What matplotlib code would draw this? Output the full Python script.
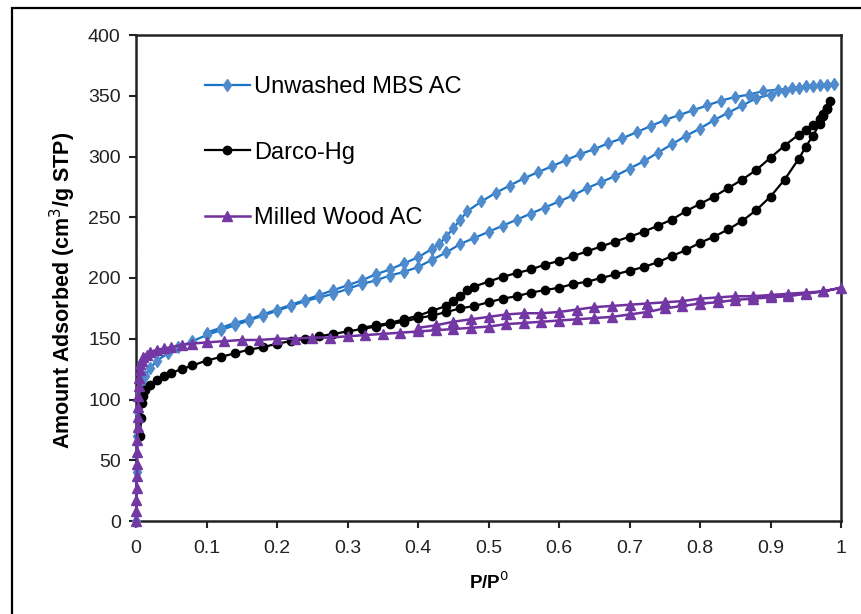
import matplotlib
matplotlib.use("Agg")
import matplotlib.pyplot as plt
from matplotlib.patches import Rectangle

plt.rcParams['font.family'] = ['Liberation Sans', 'DejaVu Sans']

# Unwashed MBS AC - adsorption branch
mbs_ads_x = [0, 0.001, 0.002, 0.003, 0.005, 0.008, 0.013, 0.02, 0.03, 0.045, 0.06, 0.08,
             0.1, 0.12, 0.14, 0.16, 0.18, 0.2, 0.22, 0.24, 0.26, 0.28, 0.3, 0.32, 0.34, 0.36,
             0.38, 0.4, 0.42, 0.44, 0.46, 0.48, 0.5, 0.52, 0.54, 0.56, 0.58, 0.6, 0.62, 0.64,
             0.66, 0.68, 0.7, 0.72, 0.74, 0.76, 0.78, 0.8, 0.82, 0.84, 0.86, 0.88, 0.9, 0.92,
             0.94, 0.96, 0.98, 0.99]
mbs_ads_y = [0, 40, 70, 90, 105, 113, 119, 126, 132, 138, 143, 148,
             153, 157, 161, 165, 169, 173, 177, 181, 184, 187, 191, 195, 198, 202,
             205, 209, 215, 221, 228, 233, 238, 243, 248, 253, 258, 263, 268, 274,
             279, 284, 290, 296, 303, 310, 317, 323, 330, 336, 342, 348, 351, 354,
             356, 358, 359, 360]
# Unwashed MBS AC - desorption branch
mbs_des_x = [0.97, 0.95, 0.93, 0.91, 0.89, 0.87, 0.85, 0.83, 0.81, 0.79, 0.77, 0.75, 0.73,
             0.71, 0.69, 0.67, 0.65, 0.63, 0.61, 0.59, 0.57, 0.55, 0.53, 0.51, 0.49, 0.47,
             0.46, 0.45, 0.44, 0.43, 0.42, 0.4, 0.38, 0.36, 0.34, 0.32, 0.3, 0.28, 0.26,
             0.24, 0.22, 0.2, 0.18, 0.16, 0.14, 0.12, 0.1]
mbs_des_y = [359, 358, 356, 355, 354, 351, 349, 346, 342, 338, 334, 330, 325,
             320, 315, 311, 306, 302, 297, 292, 287, 282, 276, 270, 263, 255,
             248, 241, 234, 228, 224, 217, 212, 207, 203, 198, 194, 190, 186,
             182, 178, 174, 170, 166, 163, 159, 155]

# Darco-Hg - adsorption branch
darco_ads_x = [0.006, 0.007, 0.008, 0.01, 0.013, 0.02, 0.03, 0.04, 0.05, 0.065, 0.08,
               0.1, 0.12, 0.14, 0.16, 0.18, 0.2, 0.22, 0.24, 0.26, 0.28, 0.3, 0.32, 0.34,
               0.36, 0.38, 0.4, 0.42, 0.44, 0.46, 0.48, 0.5, 0.52, 0.54, 0.56, 0.58, 0.6,
               0.62, 0.64, 0.66, 0.68, 0.7, 0.72, 0.74, 0.76, 0.78, 0.8, 0.82, 0.84, 0.86,
               0.88, 0.9, 0.92, 0.94, 0.95, 0.96, 0.97, 0.975, 0.98, 0.985]
darco_ads_y = [70, 85, 97, 103, 108, 112, 116, 119, 122, 125, 128,
               132, 135, 138, 141, 143, 146, 148, 150, 152, 154, 156, 158, 160,
               162, 164, 167, 169, 172, 175, 177, 180, 183, 185, 188, 190, 192,
               195, 197, 200, 203, 206, 209, 213, 218, 223, 229, 234, 240, 247,
               256, 267, 281, 298, 308, 317, 327, 333, 339, 346]
# Darco-Hg - desorption branch
darco_des_x = [0.98, 0.975, 0.97, 0.96, 0.95, 0.94, 0.92, 0.9, 0.88, 0.86, 0.84, 0.82, 0.8,
               0.78, 0.76, 0.74, 0.72, 0.7, 0.68, 0.66, 0.64, 0.62, 0.6, 0.58, 0.56, 0.54,
               0.52, 0.5, 0.48, 0.47, 0.46, 0.45, 0.44, 0.42, 0.4, 0.38, 0.36, 0.34, 0.32]
darco_des_y = [340, 335, 331, 326, 322, 318, 309, 299, 289, 281, 274, 267, 261,
               255, 248, 243, 238, 234, 230, 226, 222, 218, 214, 211, 207, 204,
               201, 197, 193, 190, 185, 181, 177, 173, 169, 166, 163, 161, 159]

# Milled Wood AC - adsorption branch
wood_ads_x = [0, 0.0003, 0.0006, 0.0009, 0.0012, 0.0015, 0.0018, 0.0021, 0.0024, 0.0027,
              0.003, 0.0035, 0.004, 0.0045, 0.005, 0.006, 0.008, 0.01, 0.015, 0.02, 0.03,
              0.04, 0.05, 0.065, 0.08, 0.1, 0.125, 0.15, 0.175, 0.2, 0.225, 0.25, 0.275,
              0.3, 0.325, 0.35, 0.375, 0.4, 0.425, 0.45, 0.475, 0.5, 0.525, 0.55, 0.575,
              0.6, 0.625, 0.65, 0.675, 0.7, 0.725, 0.75, 0.775, 0.8, 0.825, 0.85, 0.875,
              0.9, 0.925, 0.95, 0.975, 1.0]
wood_ads_y = [0, 8, 17, 27, 37, 47, 57, 67, 77, 86,
              94, 103, 111, 118, 124, 129, 132, 135, 137, 139, 141,
              142, 143, 145, 146, 147, 148, 149, 149, 150, 150, 151, 151,
              152, 153, 154, 155, 156, 157, 158, 159, 160, 162, 163, 164,
              165, 166, 167, 168, 170, 172, 175, 177, 179, 180, 182, 183,
              184, 185, 187, 189, 192]
# Milled Wood AC - desorption branch
wood_des_x = [0.975, 0.95, 0.925, 0.9, 0.875, 0.85, 0.825, 0.8, 0.775, 0.75, 0.725, 0.7,
              0.675, 0.65, 0.625, 0.6, 0.575, 0.55, 0.525, 0.5, 0.475, 0.45, 0.425, 0.4]
wood_des_y = [189, 188, 187, 186, 185, 185, 184, 183, 181, 180, 179, 178,
              177, 176, 174, 172, 171, 171, 170, 168, 166, 164, 161, 159]

series_labels = ['Unwashed MBS AC', 'Darco-Hg', 'Milled Wood AC']
x_ticks = [0, 0.1, 0.2, 0.3, 0.4, 0.5, 0.6, 0.7, 0.8, 0.9, 1]
x_tick_labels = ['0', '0.1', '0.2', '0.3', '0.4', '0.5', '0.6', '0.7', '0.8', '0.9', '1']
y_ticks = [0, 50, 100, 150, 200, 250, 300, 350, 400]

fig = plt.figure(figsize=(8.61, 6.14), dpi=100)
ax = fig.add_axes([136 / 861, 1 - 521 / 614, 705 / 861, 486 / 614])

# outer frame of the figure
fig.patches.append(Rectangle((12 / 861, -0.1), 1.2, 1.1 - 8 / 614, transform=fig.transFigure,
                             fill=False, edgecolor='black', linewidth=1.6))

styles = [
    dict(color='#1874c8', marker='d', markersize=6.5, markerfacecolor='#4f8bcc',
         markeredgecolor='#4f8bcc', linewidth=1.6),
    dict(color='black', marker='o', markersize=6, markerfacecolor='black',
         markeredgecolor='black', linewidth=1.6),
    dict(color='#7030a0', marker='^', markersize=6.5, markerfacecolor='#7338a3',
         markeredgecolor='#7338a3', linewidth=1.8),
]
data = [
    (mbs_ads_x + mbs_des_x, mbs_ads_y + mbs_des_y),
    (darco_ads_x + darco_des_x, darco_ads_y + darco_des_y),
    (wood_ads_x + wood_des_x, wood_ads_y + wood_des_y),
]
for (xs, ys), lab, st in zip(data, series_labels, styles):
    ax.plot(xs, ys, label=lab, clip_on=False, zorder=3, **st)

ax.set_xlim(0, 1)
ax.set_ylim(0, 400)
ax.set_xticks(x_ticks)
ax.set_xticklabels(x_tick_labels)
ax.set_yticks(y_ticks)
ax.tick_params(direction='out', length=5, width=1.5, labelsize=14, colors='#222222', pad=6)
ax.tick_params(axis='x', pad=9)
for sp in ax.spines.values():
    sp.set_linewidth(1.8)
    sp.set_color('#222222')

ax.set_xlabel('P/P$^{0}$', fontsize=13.5, fontweight='bold', labelpad=10)
ax.set_ylabel('Amount Adsorbed (cm$^{3}$/g STP)', fontsize=15.5, fontweight='bold')
ax.yaxis.set_label_coords(-0.082, 0.475)

ax.legend(loc='upper left', bbox_to_anchor=(0.084, 0.935), frameon=False, fontsize=17,
          handlelength=1.9, handletextpad=0.2, labelspacing=1.85, borderaxespad=0)

fig.savefig('out.png', dpi=100)
